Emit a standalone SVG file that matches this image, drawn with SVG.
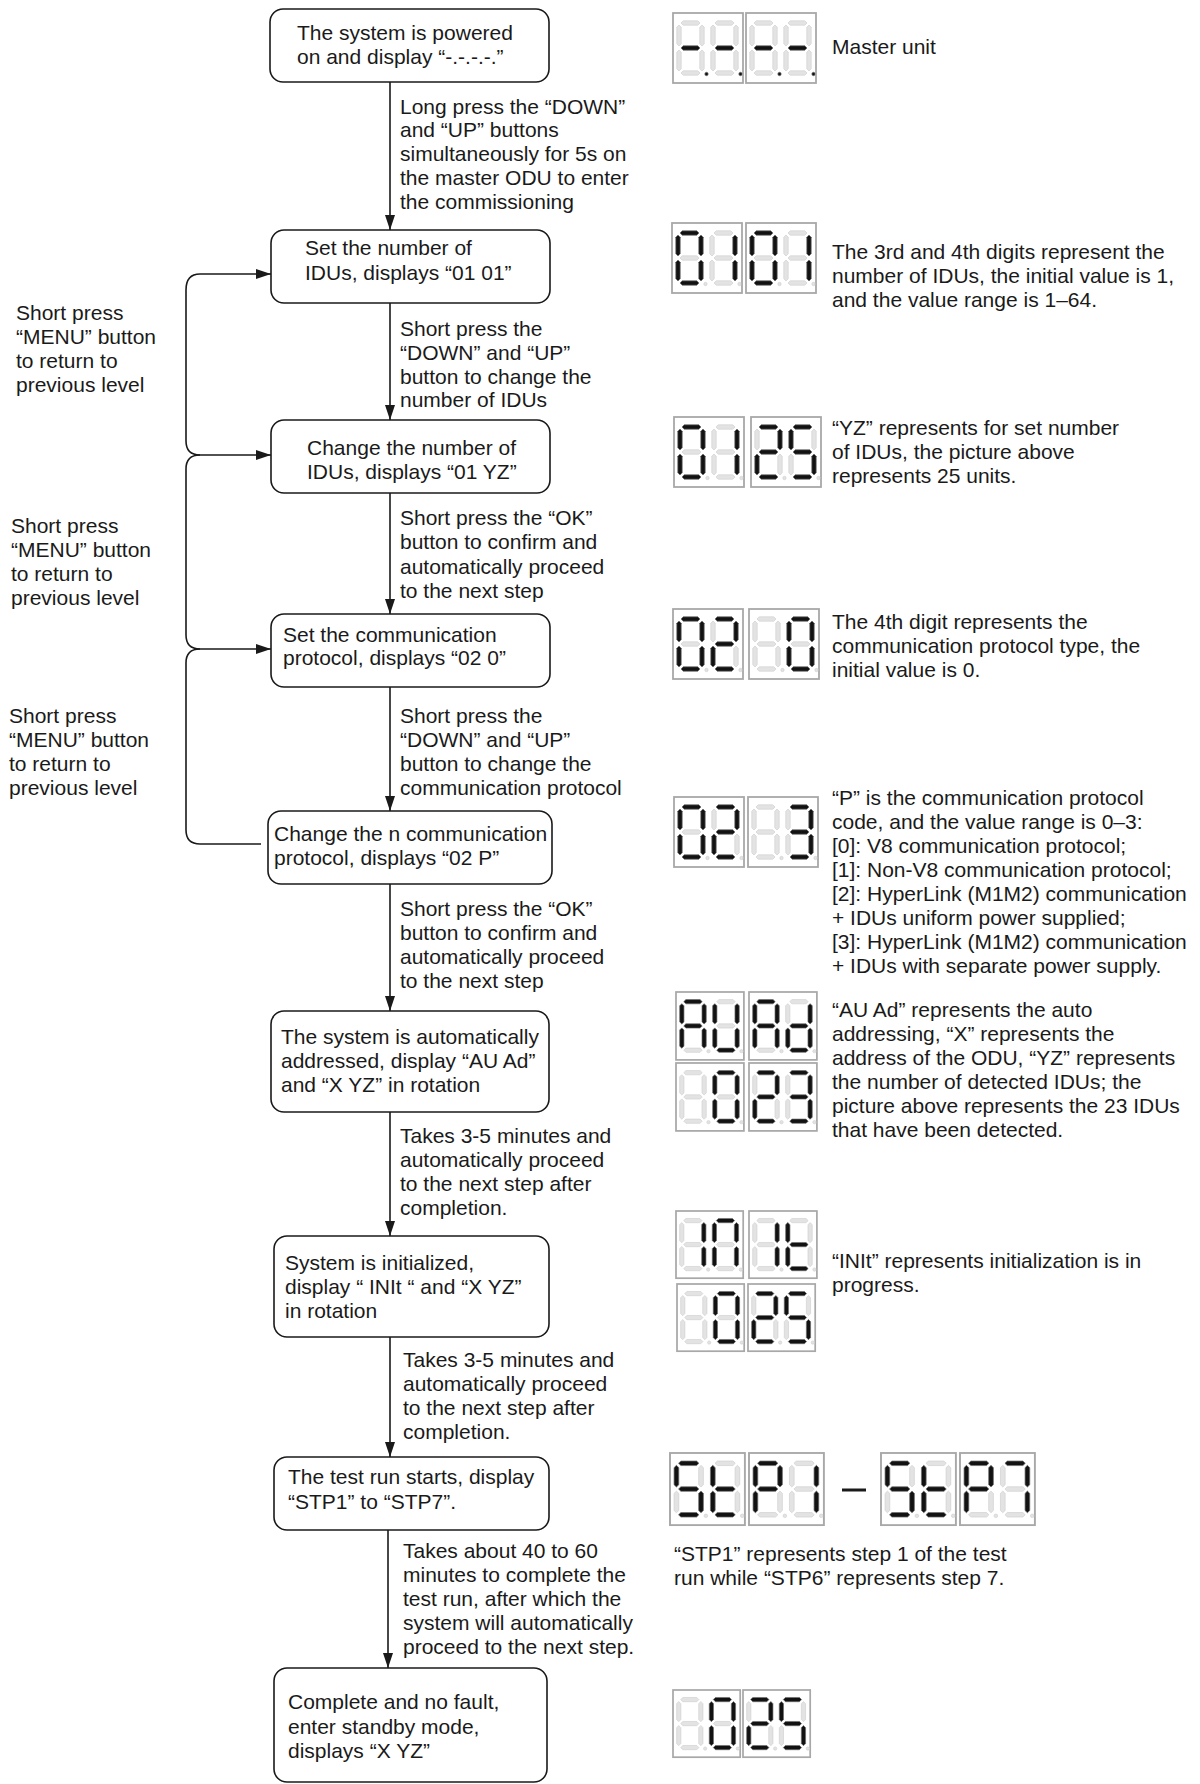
<svg xmlns="http://www.w3.org/2000/svg" xmlns:xlink="http://www.w3.org/1999/xlink" width="1200" height="1784" viewBox="0 0 1200 1784">
<style>
.t{font-family:"Liberation Sans",Arial,Helvetica,sans-serif;font-size:21px;fill:#1a1a1a}
.box{fill:#fff;stroke:#1a1a1a;stroke-width:1.6}
.ln{fill:none;stroke:#1a1a1a;stroke-width:1.6}
.off{fill:#e3e3e3;stroke:#cdcdcd;stroke-width:0.6}
.on{fill:#121212;stroke:#777;stroke-width:0.6}
.pnl{fill:#fff;stroke:#a8a8a8;stroke-width:1.8}
</style>
<defs>
<marker id="ah" markerUnits="userSpaceOnUse" markerWidth="15" markerHeight="10" refX="15" refY="5" orient="auto"><path d="M0,0 L15,5 L0,10 Z" fill="#1a1a1a"/></marker>
<path id="sa" d="M2 0 L4.2 -2.2 L18.8 -2.2 L21 0 L18.8 2.2 L4.2 2.2 Z"/>
<path id="sg" d="M2 25 L4.2 22.8 L18.8 22.8 L21 25 L18.8 27.2 L4.2 27.2 Z"/>
<path id="sd" d="M2 50 L4.2 47.8 L18.8 47.8 L21 50 L18.8 52.2 L4.2 52.2 Z"/>
<path id="sf" d="M0 2 L2.2 4.2 L2.2 20.8 L0 23 L-2.2 20.8 L-2.2 4.2 Z"/>
<path id="se" d="M0 27 L2.2 29.2 L2.2 45.8 L0 48 L-2.2 45.8 L-2.2 29.2 Z"/>
<path id="sb" d="M23 2 L25.2 4.2 L25.2 20.8 L23 23 L20.8 20.8 L20.8 4.2 Z"/>
<path id="sc" d="M23 27 L25.2 29.2 L25.2 45.8 L23 48 L20.8 45.8 L20.8 29.2 Z"/>
<circle id="dp" cx="27.5" cy="51" r="1.7"/>
<g id="dig" class="off"><use href="#sa"/><use href="#sb"/><use href="#sc"/><use href="#sd"/><use href="#se"/><use href="#sf"/><use href="#sg"/><use href="#dp"/></g>
<g id="panel"><rect x="0" y="0" width="70" height="70" class="pnl"/><use href="#dig" x="6" y="10"/><use href="#dig" x="40" y="10"/></g>
</defs>

<g id="connectors">
<line class="ln" x1="390" y1="82" x2="390" y2="230" marker-end="url(#ah)"/>
<line class="ln" x1="390" y1="303" x2="390" y2="420" marker-end="url(#ah)"/>
<line class="ln" x1="390" y1="493" x2="390" y2="614" marker-end="url(#ah)"/>
<line class="ln" x1="390" y1="687" x2="390" y2="811" marker-end="url(#ah)"/>
<line class="ln" x1="390" y1="884" x2="390" y2="1011" marker-end="url(#ah)"/>
<line class="ln" x1="390" y1="1112" x2="390" y2="1236" marker-end="url(#ah)"/>
<line class="ln" x1="390" y1="1337" x2="390" y2="1457" marker-end="url(#ah)"/>
<line class="ln" x1="388" y1="1530" x2="388" y2="1668" marker-end="url(#ah)"/>
<path class="ln" d="M186 290 Q186 274 200 274 H271" marker-end="url(#ah)"/>
<path class="ln" d="M186 290 V441 Q186 455 200 455 H271" marker-end="url(#ah)"/>
<path class="ln" d="M200 455 Q186 455 186 469 V635 Q186 649 200 649 H271" marker-end="url(#ah)"/>
<path class="ln" d="M200 649 Q186 649 186 663 V830 Q186 844 200 844 H261"/>
</g>

<g id="edge-labels">
<text class="t" x="400" y="114">Long press the “DOWN”</text>
<text class="t" x="400" y="137">and “UP” buttons</text>
<text class="t" x="400" y="161">simultaneously for 5s on</text>
<text class="t" x="400" y="185">the master ODU to enter</text>
<text class="t" x="400" y="209">the commissioning</text>

<text class="t" x="400" y="336">Short press the</text>
<text class="t" x="400" y="360">“DOWN” and “UP”</text>
<text class="t" x="400" y="384">button to change the</text>
<text class="t" x="400" y="407">number of IDUs</text>

<text class="t" x="400" y="525">Short press the “OK”</text>
<text class="t" x="400" y="549">button to confirm and</text>
<text class="t" x="400" y="574">automatically proceed</text>
<text class="t" x="400" y="598">to the next step</text>

<text class="t" x="400" y="723">Short press the</text>
<text class="t" x="400" y="747">“DOWN” and “UP”</text>
<text class="t" x="400" y="771">button to change the</text>
<text class="t" x="400" y="795">communication protocol</text>

<text class="t" x="400" y="916">Short press the “OK”</text>
<text class="t" x="400" y="940">button to confirm and</text>
<text class="t" x="400" y="964">automatically proceed</text>
<text class="t" x="400" y="988">to the next step</text>

<text class="t" x="400" y="1143">Takes 3-5 minutes and</text>
<text class="t" x="400" y="1167">automatically proceed</text>
<text class="t" x="400" y="1191">to the next step after</text>
<text class="t" x="400" y="1215">completion.</text>

<text class="t" x="403" y="1367">Takes 3-5 minutes and</text>
<text class="t" x="403" y="1391">automatically proceed</text>
<text class="t" x="403" y="1415">to the next step after</text>
<text class="t" x="403" y="1439">completion.</text>

<text class="t" x="403" y="1558">Takes about 40 to 60</text>
<text class="t" x="403" y="1582">minutes to complete the</text>
<text class="t" x="403" y="1606">test run, after which the</text>
<text class="t" x="403" y="1630">system will automatically</text>
<text class="t" x="403" y="1654">proceed to the next step.</text>

<text class="t" x="16" y="320">Short press</text>
<text class="t" x="16" y="344">“MENU” button</text>
<text class="t" x="16" y="368">to return to</text>
<text class="t" x="16" y="392">previous level</text>

<text class="t" x="11" y="533">Short press</text>
<text class="t" x="11" y="557">“MENU” button</text>
<text class="t" x="11" y="581">to return to</text>
<text class="t" x="11" y="605">previous level</text>

<text class="t" x="9" y="723">Short press</text>
<text class="t" x="9" y="747">“MENU” button</text>
<text class="t" x="9" y="771">to return to</text>
<text class="t" x="9" y="795">previous level</text>
</g>

<g id="n1"><rect class="box" x="270" y="9" width="279" height="73" rx="13"/>
<text class="t" x="297" y="40">The system is powered</text>
<text class="t" x="297" y="64">on and display “-.-.-.-.”</text></g>
<g id="n2"><rect class="box" x="271" y="230" width="279" height="73" rx="13"/>
<text class="t" x="305" y="255">Set the number of</text>
<text class="t" x="305" y="280">IDUs, displays “01 01”</text></g>
<g id="n3"><rect class="box" x="271" y="420" width="279" height="73" rx="13"/>
<text class="t" x="307" y="455">Change the number of</text>
<text class="t" x="307" y="479">IDUs, displays “01 YZ”</text></g>
<g id="n4"><rect class="box" x="271" y="614" width="279" height="73" rx="13"/>
<text class="t" x="283" y="642">Set the communication</text>
<text class="t" x="283" y="665">protocol, displays “02 0”</text></g>
<g id="n5"><rect class="box" x="268" y="811" width="284" height="73" rx="13"/>
<text class="t" x="274" y="841">Change the n communication</text>
<text class="t" x="274" y="865">protocol, displays “02 P”</text></g>
<g id="n6"><rect class="box" x="271" y="1011" width="278" height="101" rx="13"/>
<text class="t" x="281" y="1044">The system is automatically</text>
<text class="t" x="281" y="1068">addressed, display “AU Ad”</text>
<text class="t" x="281" y="1092">and “X YZ” in rotation</text></g>
<g id="n7"><rect class="box" x="274" y="1236" width="275" height="101" rx="13"/>
<text class="t" x="285" y="1270">System is initialized,</text>
<text class="t" x="285" y="1294">display “ INIt “ and “X YZ”</text>
<text class="t" x="285" y="1318">in rotation</text></g>
<g id="n8"><rect class="box" x="274" y="1457" width="275" height="73" rx="13"/>
<text class="t" x="288" y="1484">The test run starts, display</text>
<text class="t" x="288" y="1509">“STP1” to “STP7”.</text></g>
<g id="n9"><rect class="box" x="274" y="1668" width="273" height="114" rx="13"/>
<text class="t" x="288" y="1709">Complete and no fault,</text>
<text class="t" x="288" y="1734">enter standby mode,</text>
<text class="t" x="288" y="1758">displays “X YZ”</text></g>

<g id="d1">
<g transform="translate(673,13)"><use href="#panel"/><g class="on"><use href="#sg" x="6" y="10"/><use href="#dp" x="6" y="10"/><use href="#sg" x="40" y="10"/><use href="#dp" x="40" y="10"/></g></g>
<g transform="translate(746,13)"><use href="#panel"/><g class="on"><use href="#sg" x="6" y="10"/><use href="#dp" x="6" y="10"/><use href="#sg" x="40" y="10"/><use href="#dp" x="40" y="10"/></g></g>
<text class="t" x="832" y="54">Master unit</text>
</g>

<g id="d2">
<g transform="translate(672,223)"><use href="#panel"/><g class="on" transform="translate(6,10)"><use href="#sa"/><use href="#sb"/><use href="#sc"/><use href="#sd"/><use href="#se"/><use href="#sf"/></g><g class="on" transform="translate(40,10)"><use href="#sb"/><use href="#sc"/></g></g>
<g transform="translate(746,223)"><use href="#panel"/><g class="on" transform="translate(6,10)"><use href="#sa"/><use href="#sb"/><use href="#sc"/><use href="#sd"/><use href="#se"/><use href="#sf"/></g><g class="on" transform="translate(40,10)"><use href="#sb"/><use href="#sc"/></g></g>
<text class="t" x="832" y="259">The 3rd and 4th digits represent the</text>
<text class="t" x="832" y="283">number of IDUs, the initial value is 1,</text>
<text class="t" x="832" y="307">and the value range is 1–64.</text>
</g>

<g id="d3">
<g transform="translate(674,417)"><use href="#panel"/><g class="on" transform="translate(6,10)"><use href="#sa"/><use href="#sb"/><use href="#sc"/><use href="#sd"/><use href="#se"/><use href="#sf"/></g><g class="on" transform="translate(40,10)"><use href="#sb"/><use href="#sc"/></g></g>
<g transform="translate(751,417)"><use href="#panel"/><g class="on" transform="translate(6,10)"><use href="#sa"/><use href="#sb"/><use href="#sg"/><use href="#se"/><use href="#sd"/></g><g class="on" transform="translate(40,10)"><use href="#sa"/><use href="#sf"/><use href="#sg"/><use href="#sc"/><use href="#sd"/></g></g>
<text class="t" x="832" y="435">“YZ” represents for set number</text>
<text class="t" x="832" y="459">of IDUs, the picture above</text>
<text class="t" x="832" y="483">represents 25 units.</text>
</g>

<g id="d4">
<g transform="translate(673,609)"><use href="#panel"/><g class="on" transform="translate(6,10)"><use href="#sa"/><use href="#sb"/><use href="#sc"/><use href="#sd"/><use href="#se"/><use href="#sf"/></g><g class="on" transform="translate(40,10)"><use href="#sa"/><use href="#sb"/><use href="#sg"/><use href="#se"/><use href="#sd"/></g></g>
<g transform="translate(749,609)"><use href="#panel"/><g class="on" transform="translate(40,10)"><use href="#sa"/><use href="#sb"/><use href="#sc"/><use href="#sd"/><use href="#se"/><use href="#sf"/></g></g>
<text class="t" x="832" y="629">The 4th digit represents the</text>
<text class="t" x="832" y="653">communication protocol type, the</text>
<text class="t" x="832" y="677">initial value is 0.</text>
</g>

<g id="d5">
<g transform="translate(674,797)"><use href="#panel"/><g class="on" transform="translate(6,10)"><use href="#sa"/><use href="#sb"/><use href="#sc"/><use href="#sd"/><use href="#se"/><use href="#sf"/></g><g class="on" transform="translate(40,10)"><use href="#sa"/><use href="#sb"/><use href="#sg"/><use href="#se"/><use href="#sd"/></g></g>
<g transform="translate(748,797)"><use href="#panel"/><g class="on" transform="translate(40,10)"><use href="#sa"/><use href="#sb"/><use href="#sg"/><use href="#sc"/><use href="#sd"/></g></g>
<text class="t" x="832" y="805">“P” is the communication protocol</text>
<text class="t" x="832" y="829">code, and the value range is 0–3:</text>
<text class="t" x="832" y="853">[0]: V8 communication protocol;</text>
<text class="t" x="832" y="877">[1]: Non-V8 communication protocol;</text>
<text class="t" x="832" y="901">[2]: HyperLink (M1M2) communication</text>
<text class="t" x="832" y="925">+ IDUs uniform power supplied;</text>
<text class="t" x="832" y="949">[3]: HyperLink (M1M2) communication</text>
<text class="t" x="832" y="973">+ IDUs with separate power supply.</text>
</g>

<g id="d6">
<g transform="translate(676,992) scale(0.97)"><use href="#panel"/><g class="on" transform="translate(6,10)"><use href="#sa"/><use href="#sb"/><use href="#sc"/><use href="#se"/><use href="#sf"/><use href="#sg"/></g><g class="on" transform="translate(40,10)"><use href="#sb"/><use href="#sc"/><use href="#sd"/><use href="#se"/><use href="#sf"/></g></g>
<g transform="translate(749,992) scale(0.97)"><use href="#panel"/><g class="on" transform="translate(6,10)"><use href="#sa"/><use href="#sb"/><use href="#sc"/><use href="#se"/><use href="#sf"/><use href="#sg"/></g><g class="on" transform="translate(40,10)"><use href="#sb"/><use href="#sc"/><use href="#sd"/><use href="#se"/><use href="#sg"/></g></g>
<g transform="translate(676,1063) scale(0.97)"><use href="#panel"/><g class="on" transform="translate(40,10)"><use href="#sa"/><use href="#sb"/><use href="#sc"/><use href="#sd"/><use href="#se"/><use href="#sf"/></g></g>
<g transform="translate(749,1063) scale(0.97)"><use href="#panel"/><g class="on" transform="translate(6,10)"><use href="#sa"/><use href="#sb"/><use href="#sg"/><use href="#se"/><use href="#sd"/></g><g class="on" transform="translate(40,10)"><use href="#sa"/><use href="#sb"/><use href="#sg"/><use href="#sc"/><use href="#sd"/></g></g>
<text class="t" x="832" y="1017">“AU Ad” represents the auto</text>
<text class="t" x="832" y="1041">addressing, “X” represents the</text>
<text class="t" x="832" y="1065">address of the ODU, “YZ” represents</text>
<text class="t" x="832" y="1089">the number of detected IDUs; the</text>
<text class="t" x="832" y="1113">picture above represents the 23 IDUs</text>
<text class="t" x="832" y="1137">that have been detected.</text>
</g>

<g id="d7">
<g transform="translate(676,1211) scale(0.96)"><use href="#panel"/><g class="on" transform="translate(6,10)"><use href="#sb"/><use href="#sc"/></g><g class="on" transform="translate(40,10)"><use href="#sa"/><use href="#sb"/><use href="#sc"/><use href="#se"/><use href="#sf"/></g></g>
<g transform="translate(749,1211) scale(0.97,0.96)"><use href="#panel"/><g class="on" transform="translate(6,10)"><use href="#sb"/><use href="#sc"/></g><g class="on" transform="translate(40,10)"><use href="#sd"/><use href="#se"/><use href="#sf"/><use href="#sg"/></g></g>
<g transform="translate(677,1284) scale(0.96)"><use href="#panel"/><g class="on" transform="translate(40,10)"><use href="#sa"/><use href="#sb"/><use href="#sc"/><use href="#sd"/><use href="#se"/><use href="#sf"/></g></g>
<g transform="translate(748,1284) scale(0.96)"><use href="#panel"/><g class="on" transform="translate(6,10)"><use href="#sa"/><use href="#sb"/><use href="#sg"/><use href="#se"/><use href="#sd"/></g><g class="on" transform="translate(40,10)"><use href="#sa"/><use href="#sf"/><use href="#sg"/><use href="#sc"/><use href="#sd"/></g></g>
<text class="t" x="832" y="1268">“INIt” represents initialization is in</text>
<text class="t" x="832" y="1292">progress.</text>
</g>

<g id="d8">
<g transform="translate(670,1453) scale(1.07,1.03)"><use href="#panel"/><g class="on" transform="translate(6,10)"><use href="#sa"/><use href="#sf"/><use href="#sg"/><use href="#sc"/><use href="#sd"/></g><g class="on" transform="translate(40,10)"><use href="#sd"/><use href="#se"/><use href="#sf"/><use href="#sg"/></g></g>
<g transform="translate(749,1453) scale(1.07,1.03)"><use href="#panel"/><g class="on" transform="translate(6,10)"><use href="#sa"/><use href="#sb"/><use href="#se"/><use href="#sf"/><use href="#sg"/></g><g class="on" transform="translate(40,10)"><use href="#sb"/><use href="#sc"/></g></g>
<line x1="842" y1="1490" x2="866" y2="1490" stroke="#1a1a1a" stroke-width="3"/>
<g transform="translate(881,1453) scale(1.07,1.03)"><use href="#panel"/><g class="on" transform="translate(6,10)"><use href="#sa"/><use href="#sf"/><use href="#sg"/><use href="#sc"/><use href="#sd"/></g><g class="on" transform="translate(40,10)"><use href="#sd"/><use href="#se"/><use href="#sf"/><use href="#sg"/></g></g>
<g transform="translate(960,1453) scale(1.07,1.03)"><use href="#panel"/><g class="on" transform="translate(6,10)"><use href="#sa"/><use href="#sb"/><use href="#se"/><use href="#sf"/><use href="#sg"/></g><g class="on" transform="translate(40,10)"><use href="#sa"/><use href="#sb"/><use href="#sc"/></g></g>
<text class="t" x="674" y="1561">“STP1” represents step 1 of the test</text>
<text class="t" x="674" y="1585">run while “STP6” represents step 7.</text>
</g>

<g id="d9">
<g transform="translate(673,1690) scale(0.96)"><use href="#panel"/><g class="on" transform="translate(40,10)"><use href="#sa"/><use href="#sb"/><use href="#sc"/><use href="#sd"/><use href="#se"/><use href="#sf"/></g></g>
<g transform="translate(743,1690) scale(0.96)"><use href="#panel"/><g class="on" transform="translate(6,10)"><use href="#sa"/><use href="#sb"/><use href="#sg"/><use href="#se"/><use href="#sd"/></g><g class="on" transform="translate(40,10)"><use href="#sa"/><use href="#sf"/><use href="#sg"/><use href="#sc"/><use href="#sd"/></g></g>
</g>
</svg>
